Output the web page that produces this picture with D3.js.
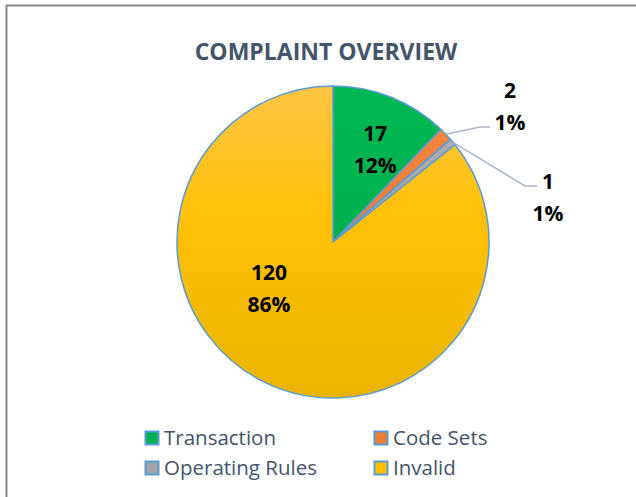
<!DOCTYPE html>
<html lang="en"><head>
<meta charset="utf-8">
<title>Complaint Overview</title>
<script src="https://cdn.jsdelivr.net/npm/d3@7"></script>
<style>
  body { margin: 0; background: #fff; }
  text { font-family: "Open Sans", "Noto Sans", sans-serif; }
</style>
</head>
<body>
<script type="text/javascript">

var categories = ["Transaction", "Code Sets", "Operating Rules", "Invalid"];
var counts = [17, 2, 1, 120];
var percentLabels = ["12%", "1%", "1%", "86%"];
var colors = ["#00B050", "#ED7D31", "#A5A5A5", "#FFC000"];

var width = 636;
var height = 497;
var cx = 333, cy = 242, radius = 156;

var svg = d3.select("body").append("svg")
            .attr("width", width)
            .attr("height", height);

// frame of the chart area (only top and left edges show)
svg.append("rect")
    .attr("x", 6.5).attr("y", 5.5)
    .attr("width", 700).attr("height", 600)
    .attr("fill", "#fff")
    .attr("stroke", "#888888")
    .attr("stroke-width", 2);

var defs = svg.append("defs");
var grads = [
    ["#00B953", "#00B050", "#00A84A"],
    ["#F48A45", "#ED7D31", "#E07226"],
    ["#B2B2B2", "#A5A5A5", "#9A9A9A"],
    ["#FFC544", "#FFC105", "#E9B400"]
];
grads.forEach((c, i) => {
    // gradient lives in the pie group's coordinates (origin at centre)
    var lg = defs.append("linearGradient")
        .attr("id", "grad" + i)
        .attr("gradientUnits", "userSpaceOnUse")
        .attr("x1", 0).attr("y1", -radius)
        .attr("x2", 0).attr("y2", radius);
    lg.append("stop").attr("offset", "0%").attr("stop-color", c[0]);
    lg.append("stop").attr("offset", "45%").attr("stop-color", c[1]);
    lg.append("stop").attr("offset", "100%").attr("stop-color", c[2]);
});

svg.append("text")
    .attr("x", 326).attr("y", 60)
    .attr("text-anchor", "middle")
    .attr("font-size", 23)
    .attr("font-weight", "bold")
    .attr("fill", "#44546A")
    .text("COMPLAINT OVERVIEW");

var data = categories.map((c, i) => ({name: c, value: counts[i], pct: percentLabels[i], i: i}));

var pie = d3.pie().sort(null).value(d => d.value);
var arcs = pie(data);
var arc = d3.arc().innerRadius(0).outerRadius(radius);

var g = svg.append("g").attr("transform", `translate(${cx},${cy})`);

g.selectAll("path")
    .data(arcs)
    .enter()
    .append("path")
    .attr("d", arc)
    .attr("fill", d => `url(#grad${d.data.i})`)
    .attr("stroke", "#5B9BD5")
    .attr("stroke-width", 1.5)
    .attr("stroke-linejoin", "round");

// inside labels
var inside = {0: {r: 100, dx: 5, dy: 0}, 3: {r: 72, dx: -9, dy: 0}};
// outside labels with leader lines
var outside = {1: {knee: [147, -115], end: [157, -115], lx: 177, ly: -136},
               2: {knee: [192, -56], end: [204, -56], lx: 215, ly: -45}};

arcs.forEach(d => {
    var mid = (d.startAngle + d.endAngle) / 2;
    var lbl;
    if (inside[d.data.i]) {
        var o = inside[d.data.i];
        var ang = d.data.i === 3 ? mid + 0.42 : mid;
        lbl = [Math.sin(ang) * o.r + o.dx, -Math.cos(ang) * o.r + o.dy];
    } else {
        var s = outside[d.data.i];
        var edge = [Math.sin(mid) * radius, -Math.cos(mid) * radius];
        g.append("polyline")
            .attr("points", [edge, s.knee, s.end].map(p => p.join(",")).join(" "))
            .attr("fill", "none")
            .attr("stroke", "#A9B7C9")
            .attr("stroke-width", 1.5);
        lbl = [s.lx, s.ly];
    }
    var t = g.append("text")
        .attr("text-anchor", "middle")
        .attr("font-size", 21)
        .attr("font-weight", "bold")
        .attr("fill", "#000");
    t.append("tspan").attr("x", lbl[0]).attr("y", lbl[1] - 8).text(d.data.value);
    t.append("tspan").attr("x", lbl[0]).attr("y", lbl[1] + 24).text(d.data.pct);
});

// legend
var legend = svg.append("g");
var legX = [145, 374], legY = [431, 461];
data.forEach((d, i) => {
    var x = legX[i % 2], y = legY[Math.floor(i / 2)];
    legend.append("rect")
        .attr("x", x + 0.5).attr("y", y + 0.5)
        .attr("width", 13).attr("height", 13)
        .attr("fill", colors[i])
        .attr("stroke", "#5B9BD5")
        .attr("stroke-width", 2);
    legend.append("text")
        .attr("x", x + 19).attr("y", y + 14)
        .attr("font-size", 20.5)
        .attr("fill", "#44546A")
        .text(d.name);
});

</script>
</body></html>
